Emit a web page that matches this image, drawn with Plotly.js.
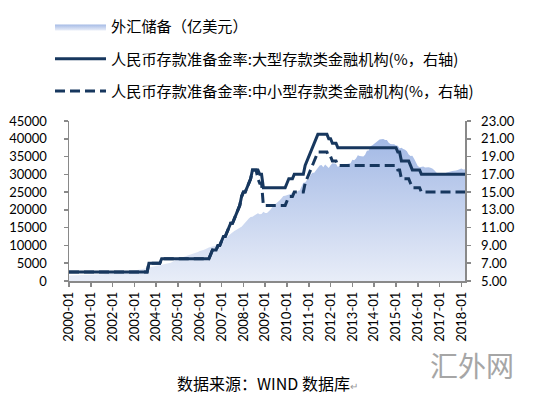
<!DOCTYPE html>
<html><head><meta charset="utf-8">
<script src="https://cdn.plot.ly/plotly-3.0.1.min.js"></script>
<style>html,body{margin:0;padding:0;background:#fff}#chart{width:535px;height:394px}</style>
</head><body><div id="chart"></div>
<script>
// Monthly data, 2000-01 .. 2018-03
var tickLabels = ['2000-01','2001-01','2002-01','2003-01','2004-01','2005-01','2006-01','2007-01','2008-01','2009-01','2010-01','2011-01','2012-01','2013-01','2014-01','2015-01','2016-01','2017-01','2018-01'];

var fxReserves = [
 1580,1590,1568,1580,1600,1587,1600,1610,1628,1635,1645,1656,
 1700,1720,1759,1785,1800,1809,1850,1900,1956,2000,2060,2122,
 2190,2243,2280,2324,2373,2428,2465,2518,2580,2643,2749,2864,
 2920,3004,3160,3200,3284,3465,3580,3647,3839,3935,4009,4033,
 4157,4258,4397,4495,4574,4706,4830,4960,5145,5428,5740,6099,
 6236,6426,6591,6701,6910,7110,7327,7533,7690,7811,7941,8189,
 8451,8537,8751,8950,9250,9411,9545,9720,9879,9960,10096,10663,
 11046,11566,12020,12466,12926,13326,13852,14086,14336,14548,14968,15282,
 15898,16471,16822,17566,17970,18088,18452,18841,19056,18797,18847,19460,
 19135,19121,19537,20089,20895,21316,21746,22108,22726,23283,23879,23992,
 24153,24245,24471,24905,24395,24543,25380,25480,26483,27609,27680,28473,
 28566,29914,30447,30446,31166,31975,32453,32625,32017,32737,32209,31811,
 32536,33096,33050,32985,32061,32400,32400,32729,32851,32874,32977,33116,
 34100,33954,34426,35345,35148,34967,35000,35530,36627,36736,37895,38213,
 38666,39137,39481,39788,39839,39932,39662,39688,38877,38529,38473,38430,
 38134,38015,37300,37481,37111,36938,36513,35574,35141,35255,34383,33304,
 32309,32023,32126,32197,31917,32052,32011,31851,31664,31207,30516,30105,
 29982,30051,30091,30295,30536,30568,30807,30915,31085,31092,31193,31399,
 31615,31345,31428
];

var rrrLarge = [
 6,6,6,6,6,6,6,6,6,6,6,6,
 6,6,6,6,6,6,6,6,6,6,6,6,
 6,6,6,6,6,6,6,6,6,6,6,6,
 6,6,6,6,6,6,6,6,7,7,7,7,
 7,7,7,7.5,7.5,7.5,7.5,7.5,7.5,7.5,7.5,7.5,
 7.5,7.5,7.5,7.5,7.5,7.5,7.5,7.5,7.5,7.5,7.5,7.5,
 7.5,7.5,7.5,7.5,7.5,7.5,8,8.5,8.5,8.5,9,9,
 9.5,10,10,10.5,11,11.5,11.5,12,12.5,13,13.5,14.5,
 15,15,15.5,16,16.5,17.5,17.5,17.5,17.5,17,17,15.5,
 15.5,15.5,15.5,15.5,15.5,15.5,15.5,15.5,15.5,15.5,15.5,15.5,
 16,16.5,16.5,16.5,17,17,17,17,17,17,18,18.5,
 19,19.5,20,20.5,21,21.5,21.5,21.5,21.5,21.5,21.5,21,
 21,20.5,20.5,20.5,20,20,20,20,20,20,20,20,
 20,20,20,20,20,20,20,20,20,20,20,20,
 20,20,20,20,20,20,20,20,20,20,20,20,
 20,19.5,19.5,18.5,18.5,18.5,18.5,18.5,18,17.5,17.5,17.5,
 17.5,17.5,17,17,17,17,17,17,17,17,17,17,
 17,17,17,17,17,17,17,17,17,17,17,17,
 17,17,17
];

var rrrSmall = [
 6,6,6,6,6,6,6,6,6,6,6,6,
 6,6,6,6,6,6,6,6,6,6,6,6,
 6,6,6,6,6,6,6,6,6,6,6,6,
 6,6,6,6,6,6,6,6,7,7,7,7,
 7,7,7,7.5,7.5,7.5,7.5,7.5,7.5,7.5,7.5,7.5,
 7.5,7.5,7.5,7.5,7.5,7.5,7.5,7.5,7.5,7.5,7.5,7.5,
 7.5,7.5,7.5,7.5,7.5,7.5,8,8.5,8.5,8.5,9,9,
 9.5,10,10,10.5,11,11.5,11.5,12,12.5,13,13.5,14.5,
 15,15,15.5,16,16.5,17.5,17.5,17.5,16.5,16,16,13.5,
 13.5,13.5,13.5,13.5,13.5,13.5,13.5,13.5,13.5,13.5,13.5,13.5,
 14,14.5,14.5,14.5,15,15,15,15,15,15,16,16.5,
 17,17.5,18,18.5,19,19.5,19.5,19.5,19.5,19.5,19.5,19,
 19,18.5,18.5,18.5,18,18,18,18,18,18,18,18,
 18,18,18,18,18,18,18,18,18,18,18,18,
 18,18,18,18,18,18,18,18,18,18,18,18,
 18,17.5,17.5,16.5,16.5,16.5,16.5,16.5,16,15.5,15.5,15.5,
 15.5,15.5,15,15,15,15,15,15,15,15,15,15,
 15,15,15,15,15,15,15,15,15,15,15,15,
 15,15,15
];

var names = ['外汇储备（亿美元）',
  '人民币存款准备金率:大型存款类金融机构(%，右轴)',
  '人民币存款准备金率:中小型存款类金融机构(%，右轴)'];

var xIdx = fxReserves.map(function(_, i){ return i; });
var tickVals = tickLabels.map(function(_, i){ return i * 12; });
var navy = '#17375e';
var axisGray = '#898989';

var traces = [
  {x: xIdx, y: fxReserves, type: 'scatter', mode: 'lines', name: names[0],
   fill: 'tozeroy', line: {width: 0, color: '#a9bde6'},
   fillgradient: {type: 'vertical', start: 0, stop: 40000,
     colorscale: [[0, '#e8edf8'], [1, '#a3b9e5']]},
   legendrank: 1, legendgroup: 'a', hoverinfo: 'skip'},
  {x: xIdx, y: rrrSmall, type: 'scatter', mode: 'lines', name: names[2], yaxis: 'y2',
   line: {color: navy, width: 3, dash: '10px,5px'}, legendrank: 3, legendgroup: 'c'},
  {x: xIdx, y: rrrLarge, type: 'scatter', mode: 'lines', name: names[1], yaxis: 'y2',
   line: {color: navy, width: 3}, legendrank: 2, legendgroup: 'b'}
];

var tickFont = {family: 'Lato, "Liberation Sans", sans-serif', size: 13, color: '#000'};
var cjk = '"Noto Sans CJK SC", sans-serif';

var layout = {
  width: 535, height: 394,
  margin: {l: 69, r: 70, t: 121, b: 113, pad: 0, autoexpand: false},
  paper_bgcolor: '#fff', plot_bgcolor: '#fff',
  showlegend: true,
  legend: {xref: 'container', yref: 'container', x: 50/535, y: 1 - 10/394,
    xanchor: 'left', yanchor: 'top', bgcolor: 'rgba(0,0,0,0)',
    font: {family: cjk, size: 15.2, color: '#000'},
    itemwidth: 51, tracegroupgap: 9.5, traceorder: 'grouped'},
  xaxis: {range: [0, 218], tickmode: 'array', tickvals: tickVals, ticktext: tickLabels,
    tickangle: -90, ticks: 'outside', ticklen: 4, tickwidth: 1.5, tickcolor: axisGray,
    showline: true, linecolor: axisGray, linewidth: 1.5, showgrid: false, zeroline: false,
    tickfont: tickFont},
  yaxis: {range: [0, 45000], tick0: 0, dtick: 5000, tickformat: 'd', ticks: 'outside', ticklen: 4,
    tickwidth: 1.5, tickcolor: axisGray, showline: true, linecolor: axisGray, linewidth: 1.5,
    showgrid: false, zeroline: false, tickfont: tickFont, ticklabelstandoff: 14},
  yaxis2: {overlaying: 'y', side: 'right', range: [5, 23], tick0: 5, dtick: 2,
    tickformat: '.2f', ticks: 'outside', ticklen: 4, tickwidth: 1.5, tickcolor: axisGray,
    showline: true, linecolor: axisGray, linewidth: 1.5, showgrid: false, zeroline: false,
    tickfont: tickFont, ticklabelstandoff: 8},
  annotations: [
    {xref: 'paper', yref: 'paper', x: (175 - 69) / 396, y: (281 - 383) / 160,
     xanchor: 'left', yanchor: 'middle', showarrow: false,
     text: '数据来源：WIND 数据库<span style="color:#999;font-size:10px">↵</span>',
     font: {family: cjk, size: 16, color: '#000'}},
    {xref: 'paper', yref: 'paper', x: (472 - 69) / 396, y: (281 - 365) / 160,
     xanchor: 'center', yanchor: 'middle', showarrow: false,
     text: '汇外网', font: {family: cjk, size: 28, color: '#a6a6a6'}}
  ]
};

Plotly.newPlot('chart', traces, layout, {displayModeBar: false, staticPlot: true});
</script></body></html>
